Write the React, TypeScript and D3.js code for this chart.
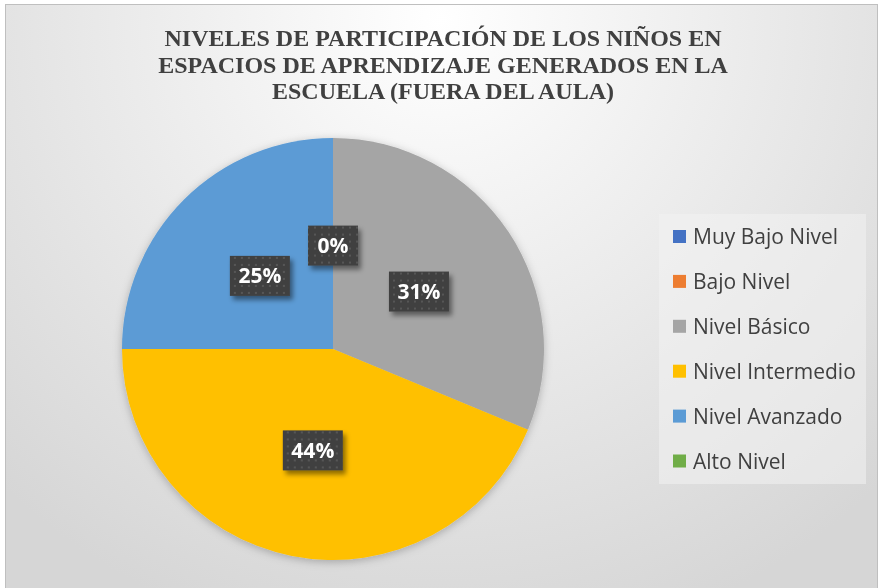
import React, { useEffect, useRef } from "react";
import * as d3 from "d3";

const categories = ["Muy Bajo Nivel", "Bajo Nivel", "Nivel Básico", "Nivel Intermedio", "Nivel Avanzado", "Alto Nivel"];
const counts = [0, 0, 5, 7, 4, 0];
const colors = ["#4472C4", "#ED7D31", "#A5A5A5", "#FFC000", "#5B9BD5", "#70AD47"];
const titleLines = [
  "NIVELES DE PARTICIPACIÓN DE LOS NIÑOS EN",
  "ESPACIOS DE APRENDIZAJE GENERADOS EN LA",
  "ESCUELA (FUERA DEL AULA)",
];

const App = () => {
  const svgRef = useRef<SVGSVGElement>(null);

  useEffect(() => {
    const width = 883, height = 588;
    const svg = d3.select(svgRef.current)
      .attr("width", width)
      .attr("height", height);
    svg.selectAll("*").remove();

    const defs = svg.append("defs");

    // background gradient
    const bg = defs.append("radialGradient")
      .attr("id", "bg")
      .attr("gradientUnits", "userSpaceOnUse")
      .attr("cx", 440).attr("cy", 20).attr("r", 640);
    bg.append("stop").attr("offset", "0%").attr("stop-color", "#ffffff");
    bg.append("stop").attr("offset", "100%").attr("stop-color", "#d6d6d6");

    // dotted label fill
    const pat = defs.append("pattern")
      .attr("id", "dots")
      .attr("patternUnits", "userSpaceOnUse")
      .attr("width", 7).attr("height", 7);
    pat.append("rect").attr("width", 7).attr("height", 7).attr("fill", "#404040");
    pat.append("rect").attr("x", 2).attr("y", 2).attr("width", 2).attr("height", 2).attr("fill", "#575757");

    const shadow = defs.append("filter").attr("id", "shadow")
      .attr("x", "-30%").attr("y", "-30%").attr("width", "160%").attr("height", "160%");
    shadow.append("feDropShadow")
      .attr("dx", 3).attr("dy", 4).attr("stdDeviation", 2.5)
      .attr("flood-color", "#000").attr("flood-opacity", 0.45);

    const pieShadow = defs.append("filter").attr("id", "pieShadow")
      .attr("x", "-10%").attr("y", "-10%").attr("width", "120%").attr("height", "120%");
    pieShadow.append("feDropShadow")
      .attr("dx", 0).attr("dy", 2).attr("stdDeviation", 4)
      .attr("flood-color", "#000").attr("flood-opacity", 0.25);

    // chart area
    svg.append("rect")
      .attr("x", 5.5).attr("y", 4.5)
      .attr("width", 872).attr("height", 600)
      .attr("fill", "url(#bg)")
      .attr("stroke", "#bfbfbf")
      .attr("stroke-width", 1);

    // Title
    svg.append("g")
      .selectAll("text")
      .data(titleLines)
      .enter()
      .append("text")
      .attr("x", 443)
      .attr("y", (d, i) => 46 + i * 26.5)
      .attr("text-anchor", "middle")
      .style("font-family", "'Liberation Serif', 'Times New Roman', serif")
      .style("font-weight", "bold")
      .style("font-size", "24px")
      .attr("fill", "#404040")
      .text(d => d);

    // Pie
    const cx = 333, cy = 349, radius = 211;
    const total = d3.sum(counts);
    const pie = d3.pie<number>().sort(null).value(d => d);
    const arcs = pie(counts);
    const arc = d3.arc<d3.PieArcDatum<number>>().innerRadius(0).outerRadius(radius);
    const labelArc = d3.arc<d3.PieArcDatum<number>>().innerRadius(radius * 0.49).outerRadius(radius * 0.49);

    const g = svg.append("g").attr("transform", `translate(${cx},${cy})`);
    g.append("g")
      .attr("filter", "url(#pieShadow)")
      .selectAll("path")
      .data(arcs)
      .enter()
      .append("path")
      .attr("d", arc)
      .attr("fill", (d, i) => colors[i]);

    // Data labels (0% shown only once, as in the original)
    const labels = arcs.filter((d, i) => d.value > 0 || i === 0);
    const lg = g.selectAll("g.label")
      .data(labels)
      .enter()
      .append("g")
      .attr("class", "label")
      .attr("transform", d => `translate(${labelArc.centroid(d)})`);

    lg.append("rect")
      .attr("x", d => d.value > 0 ? -30 : -25)
      .attr("y", -20)
      .attr("width", d => d.value > 0 ? 60 : 50)
      .attr("height", 40)
      .attr("fill", "url(#dots)")
      .attr("filter", "url(#shadow)");

    lg.append("text")
      .attr("text-anchor", "middle")
      .attr("dy", "0.36em")
      .style("font-family", "'Open Sans', sans-serif")
      .style("font-weight", "bold")
      .style("font-size", "21px")
      .attr("fill", "#ffffff")
      .text(d => `${Math.round((d.value / total) * 100)}%`);

    // Legend
    const legend = svg.append("g");
    legend.append("rect")
      .attr("x", 659).attr("y", 214)
      .attr("width", 207).attr("height", 270)
      .attr("fill", "#f2f2f2")
      .attr("fill-opacity", 0.55);

    const rowY = d3.scalePoint<string>()
      .domain(categories)
      .range([236.5, 461]);

    const item = legend.selectAll("g.item")
      .data(categories)
      .enter()
      .append("g")
      .attr("class", "item")
      .attr("transform", d => `translate(673,${rowY(d)})`);

    item.append("rect")
      .attr("x", 0).attr("y", -6.5)
      .attr("width", 13).attr("height", 13)
      .attr("fill", (d, i) => colors[i]);

    item.append("text")
      .attr("x", 20)
      .attr("dy", "0.36em")
      .style("font-family", "'Open Sans', sans-serif")
      .style("font-size", "21px")
      .attr("fill", "#404040")
      .text(d => d);
  }, []);

  return (
    <div style={{ position: "fixed", left: 0, top: 0 }}>
      <svg ref={svgRef} style={{ display: "block" }}></svg>
    </div>
  );
};

export default App;
